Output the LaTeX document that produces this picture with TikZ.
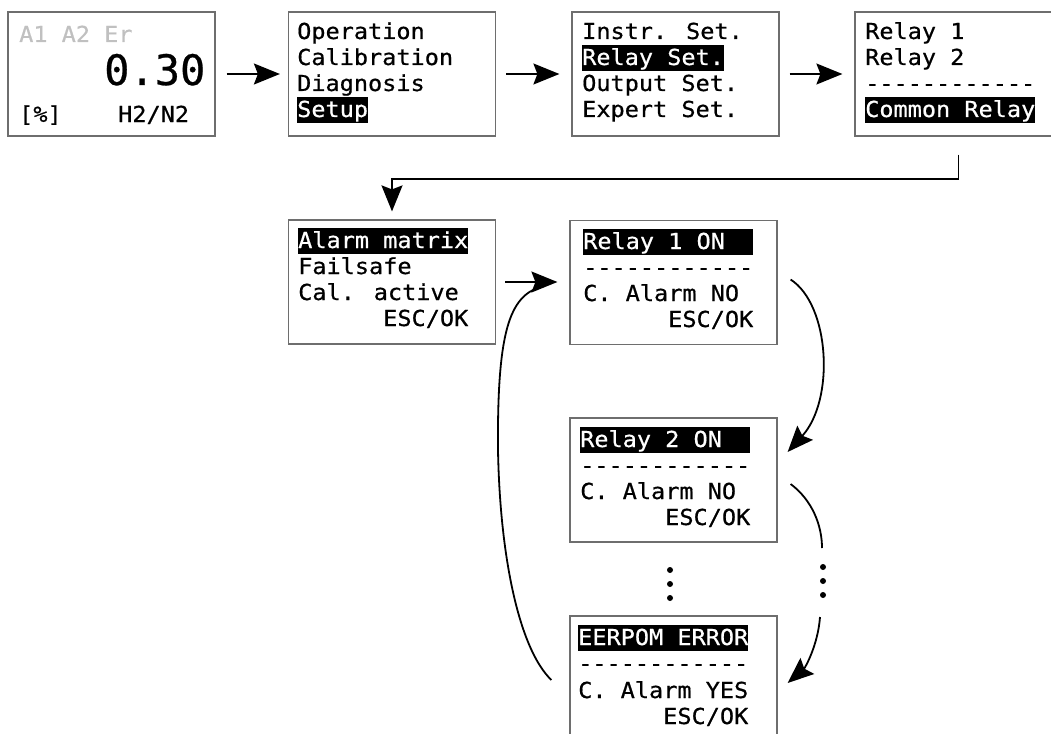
\documentclass[tikz,border=0pt]{standalone}
\usepackage{fontspec}
\usetikzlibrary{arrows.meta,calc}
\newfontfamily\mono[FakeStretch=1.07,FakeBold=0.6,Ligatures=TeXOff]{DejaVu Sans Mono}
\newfontfamily\monob[FakeBold=0.6,Ligatures=TeXOff]{DejaVu Sans Mono}
\definecolor{dim}{RGB}{192,192,192}
\definecolor{frame}{RGB}{110,110,110}
\tikzset{
 screen/.style={draw=frame, line width=1.2pt, minimum width=207pt, minimum height=124pt, inner sep=0pt},
 ln/.style={anchor=base west, inner sep=0pt, font=\mono\fontsize{22}{22}\selectfont},
 hl/.style={ln, fill=black, text=white, text height=20pt, text depth=6pt},
 arr/.style={line width=1.8pt, -{Stealth[length=26pt,width=21pt,inset=4pt]}},
 link/.style={line width=1.8pt},
 dot/.style={circle, fill=black, inner sep=0pt, minimum size=6pt},
}
\begin{document}
\begin{tikzpicture}[x=1pt,y=-1pt]
\useasboundingbox (0,0) rectangle (1051,733);
% screens
\node[screen] (b1) at (111.5,74) {};
\node[screen] (b2) at (392,74) {};
\node[screen] (b3) at (675.5,74) {};
\node[screen] (b4) at (958.5,74) {};
\node[screen] (b5) at (392,282) {};
\node[screen] (b6) at (673.5,282.5) {};
\node[screen] (b7) at (673.5,480) {};
\node[screen] (b8) at (673.5,678) {};
% screen 1
\node[ln, text=dim] (t11) at (19,42) {A1 A2 Er};
\node[anchor=base west, inner sep=0pt, font=\monob\fontsize{42}{42}\selectfont] (t12) at (104,85) {0.30};
\node[ln] (t13) at (19,122) {[\%]};
\node[ln] (t14) at (118,122) {H2/N2};
% screen 2
\node[ln] (t21) at (297,39) {Operation};
\node[ln] (t22) at (297,65) {Calibration};
\node[ln] (t23) at (297,91) {Diagnosis};
\node[hl] (t24) at (297,117) {Setup};
% screen 3
\node[ln] (t31) at (582,39) {Instr. Set.};
\node[hl] (t32) at (582,65) {Relay Set.};
\node[ln] (t33) at (582,91) {Output Set.};
\node[ln] (t34) at (582,117) {Expert Set.};
% screen 4
\node[ln] (t41) at (865,39) {Relay 1};
\node[ln] (t42) at (865,65) {Relay 2};
\node[ln] (t43) at (865,91) {------------};
\node[hl] (t44) at (865,117) {Common Relay};
% screen 5
\node[hl] (t51) at (298,248) {Alarm matrix};
\node[ln] (t52) at (298,274) {Failsafe};
\node[ln] (t53) at (298,300) {Cal. active};
\node[ln] (t54) at (298,326) {\hphantom{xxxxxx}ESC/OK};
% screen 6
\node[hl] (t61) at (583,249) {Relay 1 ON\hphantom{xx}};
\node[ln] (t62) at (583,275) {------------};
\node[ln] (t63) at (583,301) {C. Alarm NO};
\node[ln] (t64) at (583,327) {\hphantom{xxxxxx}ESC/OK};
% screen 7
\node[hl] (t71) at (580,447) {Relay 2 ON\hphantom{xx}};
\node[ln] (t72) at (580,473) {------------};
\node[ln] (t73) at (580,499) {C. Alarm NO};
\node[ln] (t74) at (580,525) {\hphantom{xxxxxx}ESC/OK};
% screen 8
\node[hl] (t81) at (578,645) {EERPOM ERROR};
\node[ln] (t82) at (578,671) {------------};
\node[ln] (t83) at (578,698) {C. Alarm YES};
\node[ln] (t84) at (578,724) {\hphantom{xxxxxx}ESC/OK};
% dots
\node[dot] (d1) at (670,570) {};
\node[dot] (d2) at (670,584) {};
\node[dot] (d3) at (670,598) {};
\node[dot] (e1) at (823,567) {};
\node[dot] (e2) at (823,581) {};
\node[dot] (e3) at (823,595) {};
% top row arrows
\draw[arr] ([xshift=11pt]b1.east) -- ([xshift=-8pt]b2.west);
\draw[arr] ([xshift=10pt]b2.east) -- ([xshift=-12pt]b3.west);
\draw[arr] ([xshift=10pt]b3.east) -- ([xshift=-12pt]b4.west);
% elbow
\draw[arr] ([yshift=-18pt]b4.south) -- ++(0,24) -| ([yshift=8pt]b5.north);
% b5 -> b6
\draw[arr] ([xshift=9pt]b5.east) -- ([xshift=-12pt]b6.west |- b5.east);
% loop back
\coordinate (lb) at ($(b8.west)+(-18,2)$);
\coordinate (lj) at (540,287);
\draw[link] (lb) .. controls (520,650) and (500,560) .. (498,450)
  .. controls (497,330) and (510,297) .. (lj);
% right curves
\draw[arr] ($(b6.east)+(13,-3)$) .. controls (830,305) and (835,400) .. ($(b7.east)+(10,-28)$);
\coordinate (ra) at (822,548);
\draw[link] ($(b7.east)+(13,4)$) .. controls (812,500) and (822,525) .. (ra);
\coordinate (rb) at (820,617);
\draw[arr] (rb) .. controls (818,645) and (805,668) .. ($(b8.east)+(10,5)$);
\end{tikzpicture}
\end{document}
